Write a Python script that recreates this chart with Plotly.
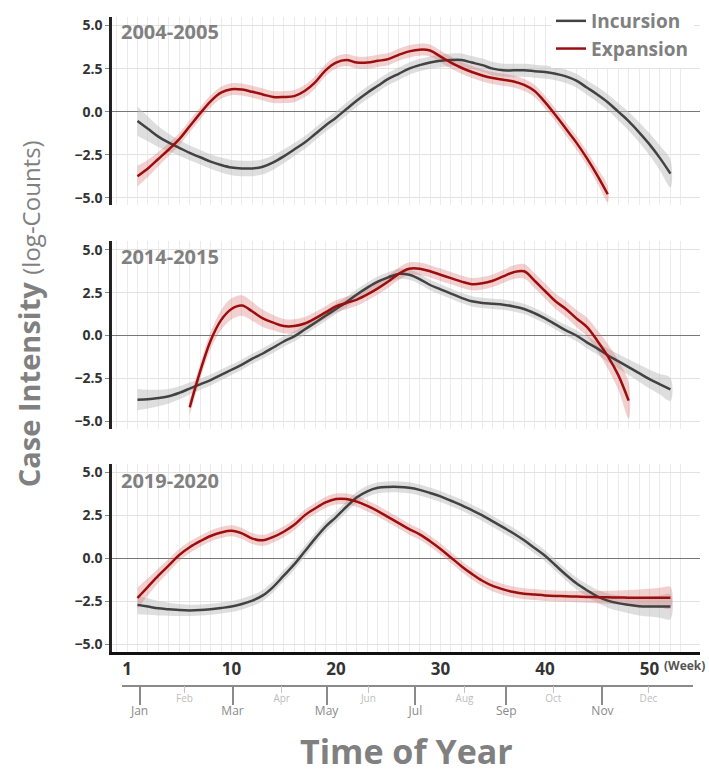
import plotly.graph_objects as go

# ---------------- data (log-counts by week of year) ----------------
inc_2004_start = 1
inc_2004 = [-0.55, -1.0, -1.45, -1.8, -2.1, -2.4, -2.65, -2.9, -3.1, -3.25,
            -3.3, -3.3, -3.2, -2.95, -2.6, -2.2, -1.8, -1.3, -0.8, -0.35,
            0.15, 0.65, 1.1, 1.5, 1.9, 2.2, 2.5, 2.7, 2.85, 2.95,
            3.0, 3.0, 2.85, 2.7, 2.5, 2.4, 2.4, 2.4, 2.35, 2.3,
            2.2, 2.05, 1.8, 1.4, 1.0, 0.55, 0.0, -0.55, -1.2, -1.9,
            -2.7, -3.6]
inc_2004_hw = [0.85, 0.72, 0.6, 0.52, 0.46, 0.43, 0.42, 0.42, 0.43, 0.44,
               0.45, 0.45, 0.44, 0.42, 0.4, 0.38, 0.37, 0.36, 0.36, 0.36,
               0.36, 0.36, 0.36, 0.36, 0.36, 0.36, 0.36, 0.36, 0.36, 0.37,
               0.38, 0.38, 0.38, 0.38, 0.38, 0.38, 0.38, 0.38, 0.38, 0.38,
               0.38, 0.39, 0.4, 0.42, 0.44, 0.46, 0.5, 0.54, 0.58, 0.64,
               0.72, 0.8]
exp_2004_start = 1
exp_2004 = [-3.75, -3.3, -2.75, -2.2, -1.6, -0.85, -0.1, 0.6, 1.1, 1.3,
            1.28, 1.15, 1.0, 0.85, 0.85, 0.9, 1.2, 1.7, 2.4, 2.85,
            3.0, 2.85, 2.85, 2.95, 3.05, 3.3, 3.5, 3.6, 3.55, 3.2,
            2.85, 2.55, 2.3, 2.1, 1.95, 1.85, 1.75, 1.55, 1.2, 0.55,
            -0.2, -1.0, -1.8, -2.7, -3.7, -4.8]
exp_2004_hw = [0.6, 0.5, 0.42, 0.38, 0.36, 0.35, 0.35, 0.35, 0.35, 0.35,
               0.35, 0.35, 0.35, 0.35, 0.35, 0.35, 0.35, 0.35, 0.35, 0.35,
               0.35, 0.35, 0.35, 0.35, 0.35, 0.35, 0.35, 0.35, 0.35, 0.35,
               0.35, 0.35, 0.35, 0.35, 0.35, 0.35, 0.35, 0.35, 0.36, 0.37,
               0.38, 0.39, 0.4, 0.42, 0.44, 0.46]

inc_2014_start = 1
inc_2014 = [-3.75, -3.72, -3.65, -3.55, -3.35, -3.1, -2.85, -2.6, -2.3, -2.0,
            -1.7, -1.35, -1.05, -0.7, -0.35, -0.05, 0.35, 0.75, 1.15, 1.55,
            1.95, 2.4, 2.8, 3.15, 3.4, 3.6, 3.55, 3.3, 2.95, 2.7,
            2.45, 2.2, 2.0, 1.9, 1.85, 1.8, 1.7, 1.55, 1.3, 1.0,
            0.65, 0.3, 0.0, -0.4, -0.75, -1.15, -1.5, -1.85, -2.2, -2.55,
            -2.85, -3.15]
inc_2014_hw = [0.62, 0.55, 0.48, 0.42, 0.38, 0.35, 0.33, 0.32, 0.31, 0.3,
               0.3, 0.3, 0.3, 0.3, 0.3, 0.3, 0.3, 0.3, 0.3, 0.3,
               0.3, 0.3, 0.3, 0.3, 0.3, 0.3, 0.3, 0.3, 0.3, 0.3,
               0.3, 0.3, 0.3, 0.3, 0.3, 0.3, 0.3, 0.3, 0.3, 0.3,
               0.3, 0.31, 0.32, 0.34, 0.36, 0.39, 0.42, 0.46, 0.5, 0.55,
               0.6, 0.67]
exp_2014_start = 6
exp_2014 = [-4.2, -2.1, -0.3, 0.9, 1.55, 1.75, 1.4, 1.0, 0.75, 0.55,
            0.55, 0.7, 1.0, 1.35, 1.7, 1.9, 2.1, 2.4, 2.75, 3.15,
            3.6, 3.9, 3.9, 3.75, 3.55, 3.35, 3.15, 3.0, 3.05, 3.2,
            3.45, 3.7, 3.75, 3.2, 2.6, 2.0, 1.55, 1.0, 0.5, -0.3,
            -1.2, -2.3, -3.8]
exp_2014_hw = [0.45, 0.45, 0.5, 0.58, 0.62, 0.6, 0.55, 0.5, 0.45, 0.42,
               0.4, 0.38, 0.37, 0.36, 0.36, 0.36, 0.36, 0.36, 0.36, 0.36,
               0.36, 0.36, 0.36, 0.36, 0.36, 0.36, 0.36, 0.36, 0.36, 0.37,
               0.38, 0.4, 0.42, 0.43, 0.44, 0.45, 0.47, 0.5, 0.55, 0.62,
               0.72, 0.86, 1.05]

inc_2019_start = 1
inc_2019 = [-2.7, -2.8, -2.9, -2.95, -3.0, -3.02, -3.0, -2.95, -2.88, -2.8,
            -2.65, -2.45, -2.15, -1.65, -1.0, -0.35, 0.4, 1.15, 1.85, 2.4,
            3.0, 3.55, 3.9, 4.1, 4.15, 4.15, 4.1, 3.98, 3.8, 3.6,
            3.35, 3.1, 2.8, 2.5, 2.15, 1.8, 1.45, 1.05, 0.6, 0.15,
            -0.4, -0.95, -1.45, -1.85, -2.2, -2.45, -2.6, -2.7, -2.78, -2.8,
            -2.8, -2.8]
inc_2019_hw = [0.55, 0.48, 0.42, 0.38, 0.35, 0.33, 0.32, 0.32, 0.32, 0.32,
               0.32, 0.32, 0.32, 0.32, 0.32, 0.32, 0.32, 0.32, 0.32, 0.32,
               0.32, 0.32, 0.32, 0.32, 0.32, 0.32, 0.32, 0.32, 0.32, 0.32,
               0.32, 0.32, 0.32, 0.32, 0.32, 0.32, 0.32, 0.32, 0.32, 0.32,
               0.32, 0.33, 0.34, 0.36, 0.38, 0.41, 0.44, 0.48, 0.53, 0.58,
               0.65, 0.73]
exp_2019_start = 1
exp_2019 = [-2.3, -1.65, -1.0, -0.4, 0.2, 0.65, 1.0, 1.3, 1.5, 1.6,
            1.45, 1.15, 1.05, 1.25, 1.55, 1.95, 2.5, 2.9, 3.25, 3.45,
            3.45, 3.3, 3.05, 2.75, 2.4, 2.05, 1.7, 1.4, 1.0, 0.55,
            0.05, -0.45, -0.9, -1.3, -1.6, -1.8, -1.95, -2.05, -2.1, -2.15,
            -2.18, -2.2, -2.22, -2.24, -2.25, -2.26, -2.27, -2.28, -2.28, -2.28,
            -2.28, -2.28]
exp_2019_hw = [0.62, 0.5, 0.42, 0.38, 0.35, 0.33, 0.32, 0.32, 0.32, 0.32,
               0.32, 0.32, 0.32, 0.32, 0.32, 0.32, 0.32, 0.32, 0.32, 0.32,
               0.32, 0.32, 0.32, 0.32, 0.32, 0.32, 0.32, 0.32, 0.32, 0.32,
               0.32, 0.32, 0.32, 0.32, 0.32, 0.32, 0.32, 0.32, 0.32, 0.32,
               0.32, 0.32, 0.33, 0.34, 0.36, 0.38, 0.41, 0.44, 0.48, 0.52,
               0.57, 0.63]

season_labels = ["2004-2005", "2014-2015", "2019-2020"]
series_names = ["Incursion", "Expansion"]

week_tickvals = [0, 10, 20, 30, 40, 50]
week_ticktext = ["1", "10", "20", "30", "40", "50"]
y_ticks = [-5, -2.5, 0, 2.5, 5]

major_month_pos = [1.2, 10.1, 19.1, 27.6, 36.3, 45.5]
major_month_lab = ["Jan", "Mar", "May", "Jul", "Sep", "Nov"]
minor_month_pos = [5.5, 14.8, 23.1, 32.3, 40.8, 49.9]
minor_month_lab = ["Feb", "Apr", "Jun", "Aug", "Oct", "Dec"]

# ---------------- styling ----------------
W, H = 709, 769
ML, MR, MT, MB = 112, 9, 0, 40
plot_h = H - MT - MB
plot_w = W - ML - MR
XR = [-1.435, 54.83]
YR = [-5.45, 5.5]

def frac(px):
    return (H - MB - px) / plot_h

def xfrac(px):
    return (px - ML) / plot_w

domains = [[frac(204), frac(15)], [frac(428), frac(240)], [frac(652), frac(463)]]

INC_LINE = "#424242"
INC_BAND = "rgba(190,190,190,0.5)"
EXP_LINE = "#9c0e0e"
EXP_BAND = "rgba(215,110,110,0.32)"
TXT_GRAY = "#808080"
FONT = "Open Sans"

fig = go.Figure()

panels = [
    (inc_2004_start, inc_2004, inc_2004_hw, exp_2004_start, exp_2004, exp_2004_hw),
    (inc_2014_start, inc_2014, inc_2014_hw, exp_2014_start, exp_2014, exp_2014_hw),
    (inc_2019_start, inc_2019, inc_2019_hw, exp_2019_start, exp_2019, exp_2019_hw),
]

def band(start, vals, hw):
    xs = list(range(start, start + len(vals)))
    up = [v + h for v, h in zip(vals, hw)]
    lo = [v - h for v, h in zip(vals, hw)]
    return xs, xs + xs[::-1], up + lo[::-1]

for i, (s1, v1, h1, s2, v2, h2) in enumerate(panels):
    xa = "x" if i == 0 else f"x{i+1}"
    ya = "y" if i == 0 else f"y{i+1}"
    x1, bx1, by1 = band(s1, v1, h1)
    x2, bx2, by2 = band(s2, v2, h2)
    fig.add_trace(go.Scatter(x=bx1, y=by1, fill="toself", fillcolor=INC_BAND,
                             line=dict(width=0, shape="spline"), mode="lines", hoverinfo="skip",
                             showlegend=False, xaxis=xa, yaxis=ya))
    fig.add_trace(go.Scatter(x=bx2, y=by2, fill="toself", fillcolor=EXP_BAND,
                             line=dict(width=0, shape="spline"), mode="lines", hoverinfo="skip",
                             showlegend=False, xaxis=xa, yaxis=ya))
    fig.add_trace(go.Scatter(x=x1, y=v1, mode="lines", name=series_names[0],
                             line=dict(color=INC_LINE, width=2.5, shape="spline"),
                             showlegend=(i == 0), xaxis=xa, yaxis=ya))
    fig.add_trace(go.Scatter(x=x2, y=v2, mode="lines", name=series_names[1],
                             line=dict(color=EXP_LINE, width=2.5, shape="spline"),
                             showlegend=(i == 0), xaxis=xa, yaxis=ya))

# invisible traces that carry the month axes (on their own thin, hidden y axis)
fig.add_trace(go.Scatter(x=major_month_pos, y=[None] * len(major_month_pos),
                         mode="markers", showlegend=False, hoverinfo="skip",
                         xaxis="x4", yaxis="y4"))
fig.add_trace(go.Scatter(x=minor_month_pos, y=[None] * len(minor_month_pos),
                         mode="markers", showlegend=False, hoverinfo="skip",
                         xaxis="x5", yaxis="y4"))

grid_weeks = list(range(-1, 54))

for i in range(3):
    sx = "" if i == 0 else str(i + 1)
    xaxis = dict(
        domain=[0, 1], range=XR, anchor="y" + sx,
        showgrid=False, zeroline=False,
        tickvals=week_tickvals, ticktext=week_ticktext,
        showticklabels=(i == 2), ticks="",
        tickfont=dict(family=FONT, size=17, color="#333333", weight="bold"),
        minor=dict(tickvals=grid_weeks, showgrid=True, gridcolor="#ebebeb", gridwidth=1),
        showline=(i == 2), linecolor="#111111", linewidth=2.5,
    )
    yaxis = dict(
        domain=domains[i], range=YR, anchor="x" + sx,
        tickvals=y_ticks, tickformat=".1f",
        showgrid=True, gridcolor="#e2e2e2", gridwidth=1.2,
        zeroline=True, zerolinecolor="#777777", zerolinewidth=1.3,
        showline=True, linecolor="#222222", linewidth=2.5,
        ticks="outside", ticklen=4, tickcolor="#888888", tickwidth=1,
        tickfont=dict(family=FONT, size=14, color="#333333", weight="bold"),
    )
    fig.layout["xaxis" + sx] = xaxis
    fig.layout["yaxis" + sx] = yaxis

month_dom = [xfrac(122), xfrac(693)]
month_range = [(122 - 127) / 10.45, (693 - 127) / 10.45]
fig.layout["yaxis4"] = dict(domain=[frac(685), frac(684)], visible=False,
                            anchor="x4", range=[0, 1])
fig.layout["xaxis4"] = dict(
    domain=month_dom, range=month_range, anchor="y4",
    tickvals=major_month_pos, ticktext=major_month_lab,
    ticks="outside", ticklen=18, tickwidth=1.5, tickcolor="#8a8a8a",
    ticklabelstandoff=-5,
    showline=True, linecolor="#8a8a8a", linewidth=2,
    showgrid=False, zeroline=False,
    tickfont=dict(family=FONT, size=12, color="#8a8a8a"),
)
fig.layout["xaxis5"] = dict(
    domain=month_dom, range=month_range, anchor="y4", overlaying="x4",
    tickvals=minor_month_pos, ticktext=minor_month_lab,
    ticks="outside", ticklen=7, tickwidth=1, tickcolor="#c4c4c4",
    ticklabelstandoff=-3,
    showline=False, showgrid=False, zeroline=False,
    tickfont=dict(family=FONT, size=10, color="#bdbdbd"),
)

annotations = []
panel_label_px = [30, 255, 480]
for lab, py in zip(season_labels, panel_label_px):
    annotations.append(dict(
        text=f"<b>{lab}</b>", xref="paper", yref="paper",
        x=xfrac(119), y=frac(py), xanchor="left", yanchor="middle",
        showarrow=False, font=dict(family=FONT, size=20, color=TXT_GRAY)))

annotations.append(dict(
    text="<b>(Week)</b>", xref="paper", yref="paper",
    x=xfrac(662), y=frac(665), xanchor="left", yanchor="middle",
    showarrow=False, font=dict(family=FONT, size=12, color="#555555")))

annotations.append(dict(
    text="<b>Time of Year</b>", xref="paper", yref="paper",
    x=xfrac(407), y=frac(751), xanchor="center", yanchor="middle",
    showarrow=False, font=dict(family=FONT, size=34, color=TXT_GRAY)))

annotations.append(dict(
    text="<b>Case Intensity</b> <span style='font-size:24px'>(log-Counts)</span>",
    xref="paper", yref="paper",
    x=xfrac(28), y=frac(313), xanchor="center", yanchor="middle",
    textangle=-90, showarrow=False, font=dict(family=FONT, size=29, color=TXT_GRAY)))

fig.update_layout(
    width=W, height=H,
    margin=dict(l=ML, r=MR, t=MT, b=MB),
    paper_bgcolor="white", plot_bgcolor="rgba(0,0,0,0)",
    annotations=annotations,
    showlegend=True,
    legend=dict(x=xfrac(551), y=1, xanchor="left", yanchor="top",
                bgcolor="white", borderwidth=0,
                font=dict(family=FONT, size=19, color=TXT_GRAY, weight="bold"),
                tracegroupgap=0, itemwidth=30),
)

fig.write_html("out.html", config={"displayModeBar": False},
               post_script="document.body.style.margin='0';document.body.style.overflow='hidden';")
